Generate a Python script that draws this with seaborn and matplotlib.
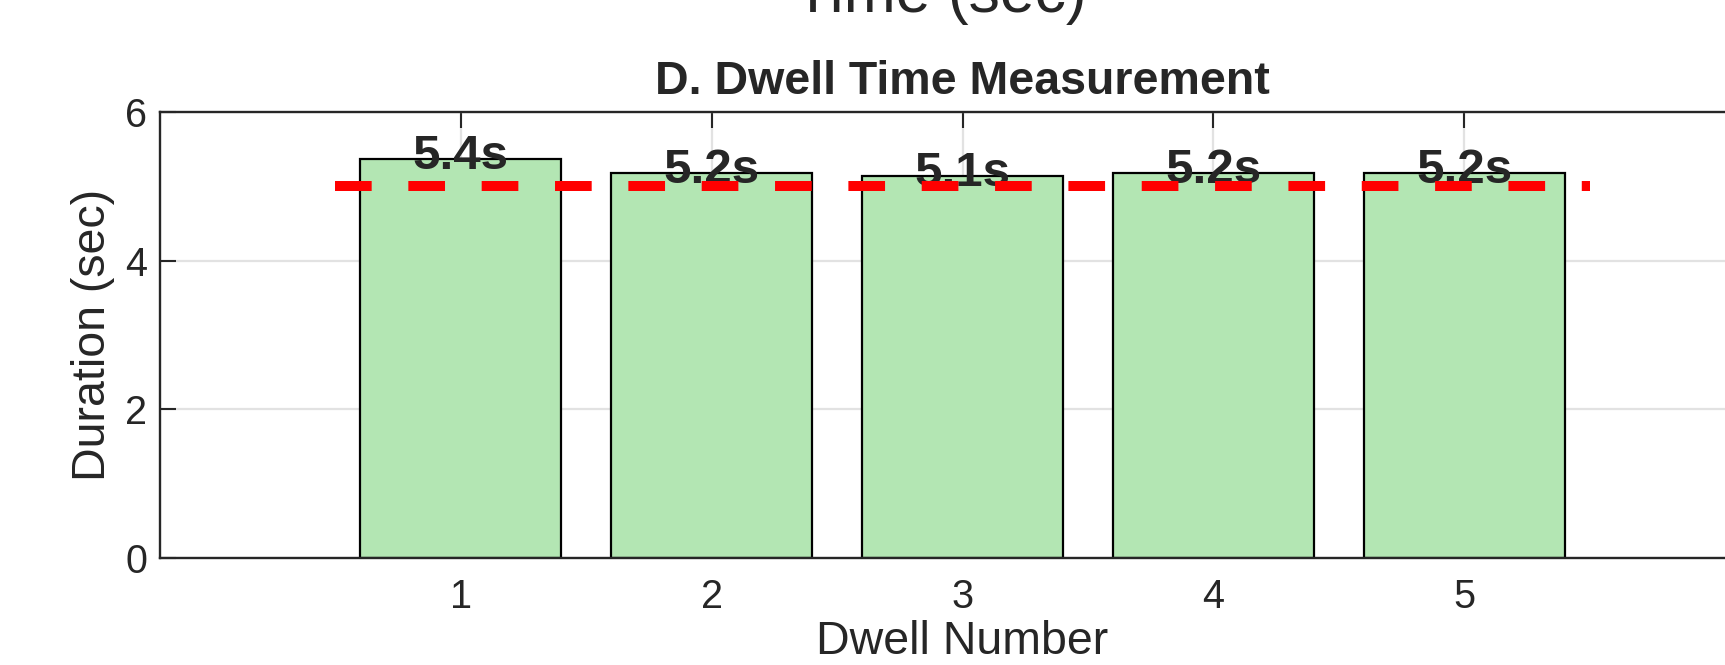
import matplotlib
matplotlib.use("Agg")
import matplotlib.pyplot as plt
import seaborn as sns
import pandas as pd

# ---- data ----
dwell_numbers = [1, 2, 3, 4, 5]
durations = [5.37, 5.18, 5.14, 5.18, 5.18]
target_duration = 5.0
y_ticks = [0, 2, 4, 6]
title = "D. Dwell Time Measurement"
x_label = "Dwell Number"
y_label = "Duration (sec)"
upper_xlabel = "Time (sec)"

sns.set_theme(style="ticks")
plt.rcParams["font.family"] = ["Liberation Sans", "DejaVu Sans"]
TXT = "#262626"

df = pd.DataFrame({"Dwell": dwell_numbers, "Duration": durations})

fig = plt.figure(figsize=(17.25, 6.65), dpi=100)
ax = fig.add_axes([159.5 / 1725, 107 / 665, 1606 / 1725, 446 / 665])

sns.barplot(data=df, x="Dwell", y="Duration", native_scale=True, width=0.8,
            color="#b3e6b3", saturation=1, edgecolor="black", linewidth=1.6,
            errorbar=None, ax=ax, zorder=2)

for x, v in zip(dwell_numbers, durations):
    ax.text(x, v - 0.14, f"{v:.1f}s", ha="center", va="baseline",
            fontsize=35.5, fontweight="bold", color=TXT, zorder=4)

ax.hlines(target_duration, dwell_numbers[0] - 0.5, dwell_numbers[-1] + 0.5,
          colors="#ff0000", linewidth=7.2, linestyles=(0, (3.667, 3.667)),
          zorder=5)

ax.set_xlim(-0.2, 6.2)
ax.set_ylim(0, 6)
ax.set_xticks(dwell_numbers)
ax.set_xticklabels([str(d) for d in dwell_numbers])
ax.set_yticks(y_ticks)

ax.grid(True, color="#e2e2e2", linewidth=1.6)
ax.set_axisbelow(True)

for s in ax.spines.values():
    s.set_color(TXT)
    s.set_linewidth(1.7)
    s.set_visible(True)

ax.tick_params(axis="both", direction="in", length=11.5, width=1.5,
               colors=TXT, labelsize=28.5, top=True, right=True)
ax.tick_params(axis="x", pad=14.5)
ax.tick_params(axis="y", pad=9)

ax.set_title(title, fontsize=33.5, fontweight="bold", color=TXT, pad=13)
ax.set_xlabel(x_label, fontsize=33.5, color=TXT, labelpad=3)
ax.set_ylabel(y_label, fontsize=33.5, color=TXT, labelpad=7)

fig.text(940 / 1725, 1 - 12 / 665, upper_xlabel, ha="center", va="baseline",
         fontsize=45, color=TXT)

fig.savefig("out.png", dpi=100, facecolor="white")
